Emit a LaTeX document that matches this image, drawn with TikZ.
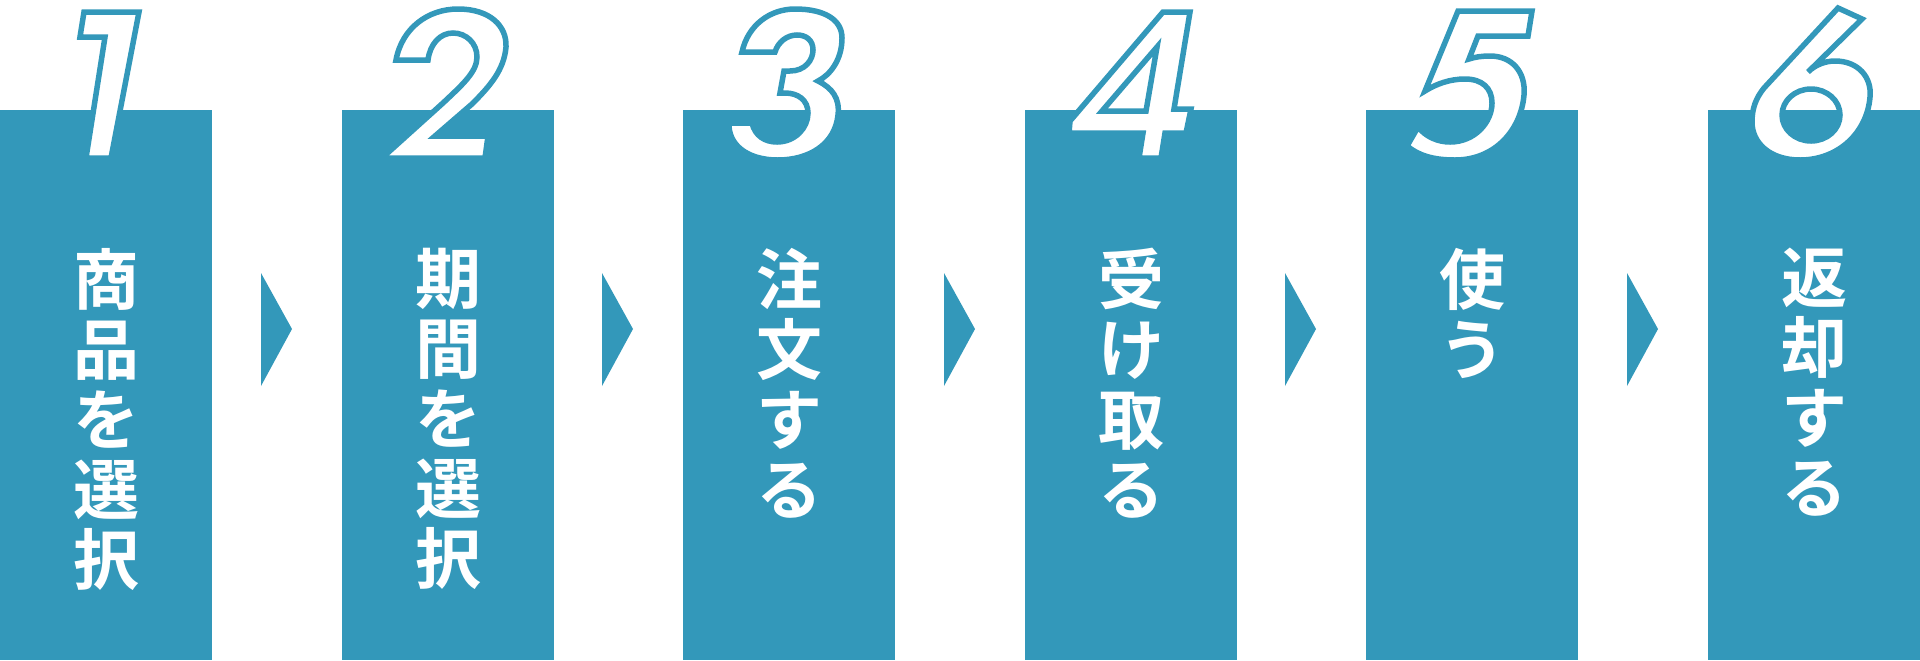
\documentclass[tikz,border=0pt]{standalone}
\usepackage{fontspec}
\newfontfamily\cjk{Noto Sans CJK JP}[BoldFont={Noto Sans CJK JP Bold}]
\definecolor{teal1}{RGB}{51,152,186}
\tikzset{
  col/.style={fill=teal1, draw=none, anchor=north west, minimum width=106pt, minimum height=275pt, inner sep=0pt, outer sep=0pt},
  lbl/.style={text=white, anchor=north, align=center, inner sep=0pt, font=\cjk\bfseries\fontsize{33pt}{35pt}\selectfont},
  digit/.style={fill=white, draw=teal1, line width=2.75pt, line join=miter, even odd rule},
  tri/.style={fill=teal1, draw=none}
}
\begin{document}
\begin{tikzpicture}[x=0.5pt, y=-0.5pt]
\useasboundingbox (0,0) rectangle (1920,660);
% columns
\node[col] (c1) at (0,110) {};
\node[col] (c2) at (342,110) {};
\node[col] (c3) at (683,110) {};
\node[col] (c4) at (1025,110) {};
\node[col] (c5) at (1366,110) {};
\node[col] (c6) at (1708,110) {};
% arrows
\fill[tri] (261,273) -- (292,329) -- (261,386) -- cycle;
\fill[tri] (602,273) -- (633,329) -- (602,386) -- cycle;
\fill[tri] (944,273) -- (975,329) -- (944,386) -- cycle;
\fill[tri] (1285,273) -- (1316,329) -- (1285,386) -- cycle;
\fill[tri] (1627,273) -- (1658,329) -- (1627,386) -- cycle;
% digit 1
\draw[digit] (84,12) -- (139,12) -- (111,158) -- (86,158) -- (105,37) -- (80,37) -- cycle;
% digit 2
\draw[digit] (396,60) .. controls (402,28) and (428,9) .. (458,9)
  .. controls (490,9) and (507,26) .. (506,47)
  .. controls (504,70) and (490,86) .. (472,104)
  -- (435,136) -- (488,136) -- (485,158) -- (382,158) -- (443,103)
  .. controls (462,85) and (477,72) .. (477,57)
  .. controls (477,43) and (466,33) .. (453,33)
  .. controls (440,33) and (430,44) .. (428,60) -- cycle;
% digit 3
\draw[digit] (742,52) .. controls (748,25) and (770,9) .. (795,9)
  .. controls (825,9) and (842,20) .. (842,38)
  .. controls (842,60) and (830,75) .. (818,81)
  .. controls (832,88) and (840,98) .. (838,115)
  .. controls (835,145) and (808,160) .. (778,160)
  .. controls (745,160) and (728,143) .. (729,123)
  -- (752,123)
  .. controls (755,136) and (765,142) .. (777,142)
  .. controls (795,142) and (808,128) .. (808,113)
  .. controls (808,100) and (798,93) .. (785,93)
  -- (780,93) -- (784,71) -- (790,71)
  .. controls (805,71) and (813,60) .. (813,50)
  .. controls (813,40) and (806,35) .. (797,35)
  .. controls (787,35) and (778,42) .. (775,52) -- cycle;
% digit 4
\draw[digit] (1163,12) -- (1190,12) -- (1174,109) -- (1191,109) -- (1186,133) -- (1165,133)
  -- (1161,158) -- (1139,158) -- (1143,133) -- (1069,133) -- (1070,121) -- cycle
  (1157,47) -- (1146,111) -- (1102,111) -- cycle;
% digit 5
\draw[digit] (1458,11) -- (1532,11) -- (1528,36) -- (1478,36) -- (1469,59)
  .. controls (1475,57) and (1482,56) .. (1490,56)
  .. controls (1512,56) and (1526,72) .. (1524,95)
  .. controls (1521,130) and (1495,160) .. (1455,160)
  .. controls (1432,160) and (1418,155) .. (1407,146)
  -- (1418,127)
  .. controls (1426,137) and (1438,142) .. (1450,142)
  .. controls (1475,142) and (1492,122) .. (1492,103)
  .. controls (1492,88) and (1482,79) .. (1465,79)
  .. controls (1450,79) and (1436,84) .. (1425,91) -- cycle;
% digit 6
\draw[digit] (1838,8) -- (1862,19) -- (1808,72)
  .. controls (1815,65) and (1825,61) .. (1835,61)
  .. controls (1858,61) and (1872,77) .. (1870,97)
  .. controls (1867,133) and (1838,160) .. (1800,160)
  .. controls (1770,160) and (1752,143) .. (1752,122)
  .. controls (1752,108) and (1756,98) .. (1764,88) -- cycle
  (1811,115) ellipse[x radius=29, y radius=26];
% labels
\node[lbl] (t1) at (106,248) {商\\品\\を\\選\\択};
\node[lbl] (t2) at (448,248) {期\\間\\を\\選\\択};
\node[lbl] (t3) at (789,248) {注\\文\\す\\る};
\node[lbl] (t4) at (1131,248) {受\\け\\取\\る};
\node[lbl] (t5) at (1472,248) {使\\う};
\node[lbl] (t6) at (1814,248) {返\\却\\す\\る};
\end{tikzpicture}
\end{document}
